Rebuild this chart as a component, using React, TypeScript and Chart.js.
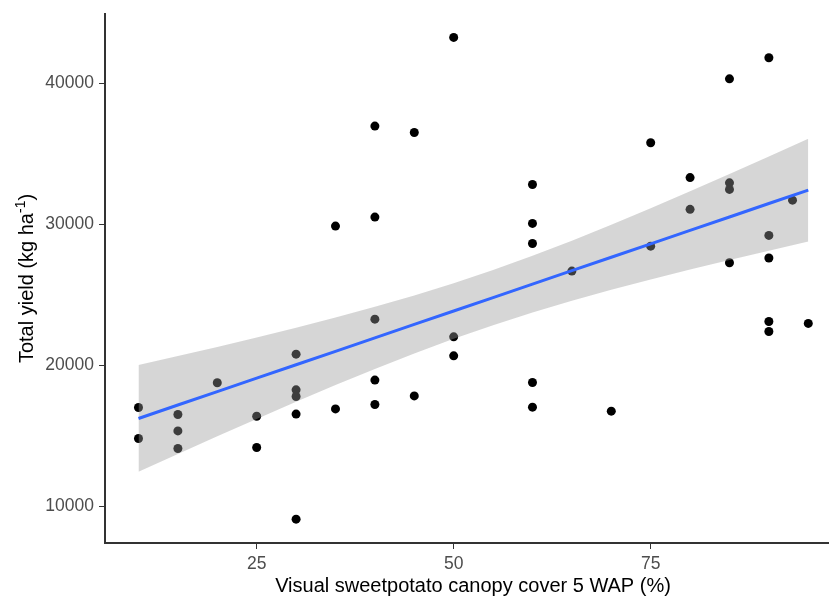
import React, { useEffect, useRef } from "react";
import { Chart, registerables } from "chart.js";

Chart.register(...registerables);

// Observations: canopy cover (%) and total yield (kg/ha)
const canopy = [10,10,15,15,15,20,25,25,30,30,30,30,30,35,35,40,40,40,40,40,45,45,50,50,50,60,60,60,60,60,65,70,75,75,80,80,85,85,85,85,90,90,90,90,90,93,95];
const yieldKg = [17000,14800,16500,15340,14090,18750,16380,14160,20780,18250,17780,16530,9080,29860,16900,36950,30500,23260,18940,17210,36500,17820,43240,22010,20660,32810,30050,28630,18770,17020,26670,16740,35770,28440,33300,31050,40300,32930,32460,27260,41800,29200,27600,23100,22390,31700,22960];

// Linear fit and its confidence band, read along the x range
const bandX = [10,15,20,25,30,35,40,45,50,55,60,65,70,75,80,85,90,95];
const fitY = [16220,17173,18125,19078,20030,20983,21935,22888,23840,24793,25745,26698,27650,28603,29555,30508,31460,32410];
const upperY = [20005,20645,21296,21965,22655,23375,24134,24943,25811,26749,27756,28828,29954,31124,32327,33555,34801,36060];
const lowerY = [12435,13701,14954,16191,17405,18591,19736,20833,21869,22837,23734,24568,25346,26082,26783,27461,28119,28760];

const xTicks = [25, 50, 75];
const yTicks = [10000, 20000, 30000, 40000];

const xTitle = "Visual sweetpotato canopy cover 5 WAP (%)";
const yTitleMain = "Total yield (kg ha";
const yTitleSup = "-1";
const yTitleEnd = ")";

const FONT = "'Liberation Sans', Arial, sans-serif";

export default function App() {
  const ref = useRef<HTMLCanvasElement | null>(null);

  useEffect(() => {
    const canvas = ref.current;
    if (!canvas) return;

    const titlePlugin = {
      id: "titles",
      afterDraw(chart: any) {
        const ctx = chart.ctx as CanvasRenderingContext2D;
        const area = chart.chartArea;
        ctx.save();
        ctx.fillStyle = "#000";
        ctx.textBaseline = "alphabetic";
        // x title
        ctx.font = `20px ${FONT}`;
        ctx.textAlign = "center";
        ctx.fillText(xTitle, 473, 592);
        // y title with superscript
        const mainFont = `20px ${FONT}`;
        const supFont = `14px ${FONT}`;
        ctx.font = mainFont;
        const w1 = ctx.measureText(yTitleMain).width;
        const w3 = ctx.measureText(yTitleEnd).width;
        ctx.font = supFont;
        const w2 = ctx.measureText(yTitleSup).width;
        const total = w1 + w2 + w3;
        const cy = (area.top + area.bottom) / 2;
        ctx.translate(33, cy);
        ctx.rotate(-Math.PI / 2);
        ctx.textAlign = "left";
        let x = -total / 2;
        ctx.font = mainFont;
        ctx.fillText(yTitleMain, x, 0);
        x += w1;
        ctx.font = supFont;
        ctx.fillText(yTitleSup, x, -8);
        x += w2;
        ctx.font = mainFont;
        ctx.fillText(yTitleEnd, x, 0);
        ctx.restore();
      },
    };

    const chart = new Chart(canvas, {
      type: "line",
      data: {
        datasets: [
          {
            label: "observed",
            data: canopy.map((c, i) => ({ x: c, y: yieldKg[i] })),
            showLine: false,
            pointRadius: 4.5,
            pointBackgroundColor: "#000",
            pointBorderWidth: 0,
            borderColor: "#000",
            order: 4,
          },
          {
            label: "upper",
            data: bandX.map((c, i) => ({ x: c, y: upperY[i] })),
            borderWidth: 0,
            borderColor: "rgba(0,0,0,0)",
            pointRadius: 0,
            fill: "+1",
            backgroundColor: "rgba(153,153,153,0.4)",
            order: 3,
          },
          {
            label: "lower",
            data: bandX.map((c, i) => ({ x: c, y: lowerY[i] })),
            borderWidth: 0,
            borderColor: "rgba(0,0,0,0)",
            pointRadius: 0,
            fill: false,
            order: 2,
          },
          {
            label: "fit",
            data: bandX.map((c, i) => ({ x: c, y: fitY[i] })),
            borderWidth: 3,
            borderColor: "#3366FF",
            pointRadius: 0,
            fill: false,
            order: 1,
          },
        ],
      },
      options: {
        responsive: false,
        animation: false,
        devicePixelRatio: 1,
        layout: { autoPadding: false, padding: { top: 14, right: 0, left: 0, bottom: 0 } },
        plugins: {
          legend: { display: false },
          tooltip: { enabled: false },
          filler: { propagate: false },
        },
        scales: {
          x: {
            type: "linear",
            min: 5.75,
            max: 97.63,
            afterBuildTicks: (s: any) => {
              s.ticks = xTicks.map((v) => ({ value: v }));
            },
            afterFit: (s: any) => {
              s.height = 55;
              s.paddingLeft = 0;
              s.paddingRight = 0;
            },
            ticks: {
              color: "#4D4D4D",
              font: { family: FONT, size: 17.5 },
              padding: 5,
              maxRotation: 0,
              callback: (v: any) => String(v),
            },
            grid: {
              display: true,
              drawOnChartArea: false,
              drawTicks: true,
              tickLength: 6,
              color: "#333",
              lineWidth: 1,
            },
            border: { display: true, color: "#333", width: 2 },
          },
          y: {
            type: "linear",
            min: 7390,
            max: 44900,
            afterBuildTicks: (s: any) => {
              s.ticks = yTicks.map((v) => ({ value: v }));
            },
            afterFit: (s: any) => {
              s.width = 105;
              s.paddingTop = 0;
              s.paddingBottom = 0;
            },
            ticks: {
              color: "#4D4D4D",
              font: { family: FONT, size: 17.5 },
              padding: 5,
              callback: (v: any) => String(v),
            },
            grid: {
              display: true,
              drawOnChartArea: false,
              drawTicks: true,
              tickLength: 6,
              color: "#333",
              lineWidth: 1,
            },
            border: { display: true, color: "#333", width: 2 },
          },
        },
      } as any,
      plugins: [titlePlugin],
    });

    return () => chart.destroy();
  }, []);

  return (
    <div style={{ position: "absolute", left: 0, top: 0, width: 829, height: 598, background: "#fff" }}>
      <canvas ref={ref} width={829} height={598} style={{ display: "block" }} />
    </div>
  );
}
